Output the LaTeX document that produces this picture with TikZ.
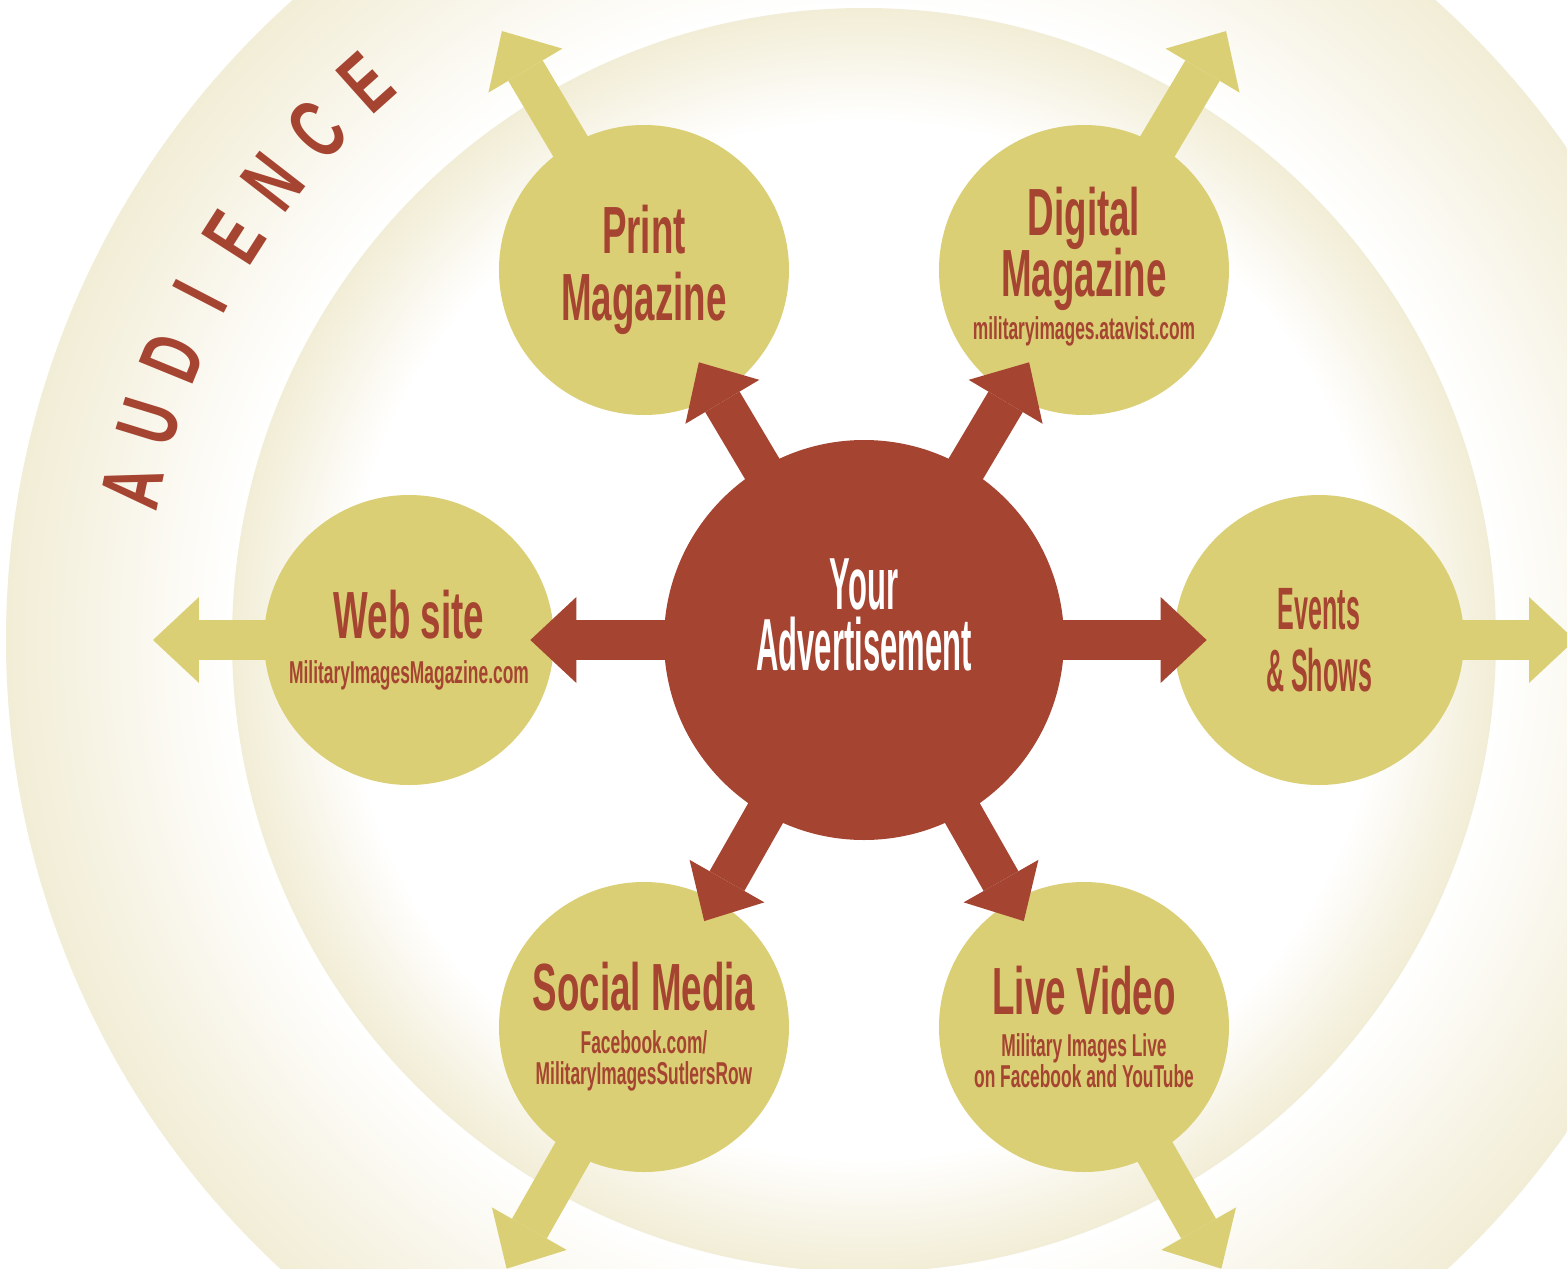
\documentclass[tikz,border=0pt]{standalone}
\usepackage{fontspec}
\usetikzlibrary{arrows.meta,calc}

\newfontfamily\headfont[FakeStretch=0.55]{Liberation Sans Bold}
\newfontfamily\narrowfont[FakeStretch=0.42]{Liberation Sans Bold}
\newfontfamily\ringfont[FakeStretch=0.66]{Liberation Sans Bold}

\definecolor{adred}{RGB}{166,68,50}
\definecolor{chanyellow}{RGB}{219,207,117}
\definecolor{ringbeige}{RGB}{242,237,214}

\pgfdeclareradialshading{outerfade}{\pgfpoint{0bp}{0bp}}{color(0bp)=(white); color(18.4bp)=(white); color(25bp)=(ringbeige); color(50bp)=(ringbeige)}
\pgfdeclareradialshading{innerfade}{\pgfpoint{0bp}{0bp}}{color(0bp)=(white); color(20.5bp)=(white); color(25bp)=(ringbeige); color(50bp)=(ringbeige)}

\newcommand\suburl[1]{{\fontsize{18}{18}\selectfont #1}}

\begin{document}
\begin{tikzpicture}[channel/.style={circle,fill=chanyellow,minimum size=5.8cm,inner sep=0pt,text=adred,align=center,font=\headfont\fontsize{38}{38}\selectfont},
    hub/.style={circle,fill=adred,minimum size=8cm,inner sep=0pt},
    hub label/.style={text=white,align=center,inner sep=0pt,font=\narrowfont\fontsize{42}{35}\selectfont},
    push/.style={line width=0.8cm,color=adred,-{Triangle[length=0.92cm,width=1.72cm,line width=0pt]},shorten <=-0.5cm},
    reach/.style={line width=0.8cm,color=chanyellow,-{Triangle[length=0.92cm,width=1.72cm,line width=0pt]},shorten <=-0.1cm},
    audience letter/.style={text=adred,inner sep=0pt,font=\ringfont\fontsize{48}{48}\selectfont}]
    \useasboundingbox (-17.28,-12.56) rectangle (14.06,12.80);
    \clip (-17.28,-12.56) rectangle (14.06,12.80);

    % audience rings
    \shade[shading=outerfade] (0,0) circle (17.16);
    \shade[shading=innerfade] (0,0) circle (12.64);

    \node[hub] (ad) at (0,0) {};
    \node[channel] (print) at (-4.4,7.4) {Print\\Magazine};
    \node[channel] (digital) at (4.4,7.4) {Digital\\[-3pt]Magazine\\[-14pt]\suburl{militaryimages.atavist.com}\\[-30pt]};
    \node[channel] (web) at (-9.1,0) {Web site\\[-12.4pt]\suburl{MilitaryImagesMagazine.com}};
    \node[channel,font=\narrowfont\fontsize{34}{35}\selectfont] (events) at (9.1,0) {Events\\\&~Shows};
    \node[channel,font=\headfont\fontsize{38}{24}\selectfont] (social) at (-4.4,-7.74) {Social Media\\\suburl{Facebook.com/}\\[-6pt]\suburl{MilitaryImagesSutlersRow}};
    \node[channel,font=\headfont\fontsize{38}{24}\selectfont] (live) at (4.4,-7.74) {Live Video\\\suburl{Military Images Live}\\[-6pt]\suburl{on Facebook and YouTube}};

    % outer reach
    \foreach \src/\len in {print/5.56,digital/5.56,social/5.56,live/5.56,web/5.12,events/5.12}
        \coordinate (\src-out) at ($(\src)!-\len cm!(ad)$);
    \path[reach]
        (print) edge (print-out)
        (digital) edge (digital-out)
        (web) edge (web-out)
        (events) edge (events-out)
        (social) edge (social-out)
        (live) edge (live-out);

    \path[push]
        (ad) edge[shorten >=-0.76cm] (print)
        (ad) edge[shorten >=-0.76cm] (digital)
        (ad) edge[shorten >=-0.48cm] (web)
        (ad) edge[shorten >=-0.66cm] (events)
        (ad) edge[shorten >=-0.47cm] (social)
        (ad) edge[shorten >=-0.47cm] (live);

    \node[hub label] (ad-text) at ([yshift=0.5cm]ad.center) {Your\\Advertisement};

    \foreach \ch [count=\i from 0] in {A,U,D,I,E,N,C,E}
        \node[audience letter,rotate=78.2-5.2*\i] (aud\i) at ({168.2-5.2*\i}:14.95) {\ch};
\end{tikzpicture}
\end{document}
